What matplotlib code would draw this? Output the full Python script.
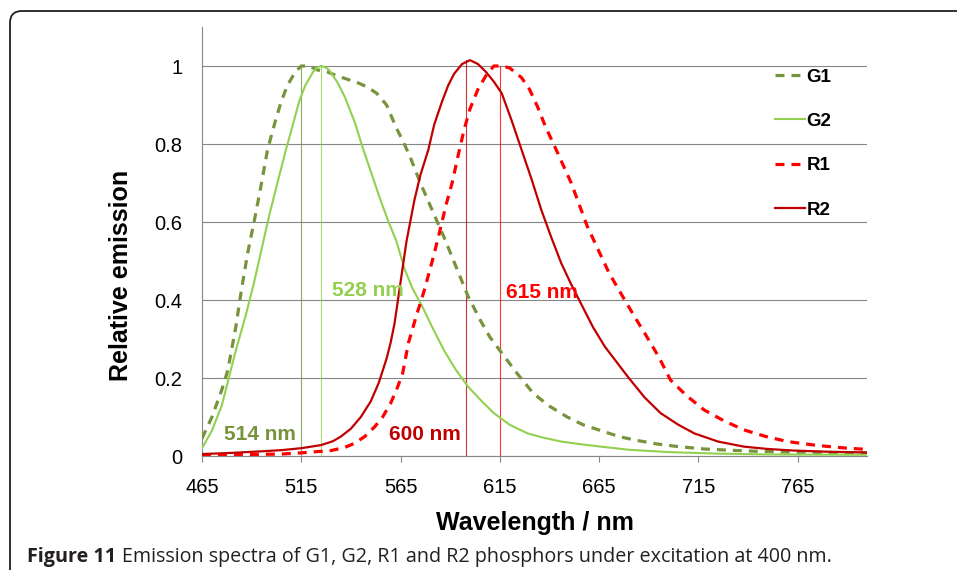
import numpy as np
import matplotlib
matplotlib.use("Agg")
import matplotlib.pyplot as plt
from matplotlib.patches import FancyBboxPatch
from matplotlib.transforms import IdentityTransform

plt.rcParams['font.family'] = ['Liberation Sans', 'DejaVu Sans']

# --- data ---
g1_nm = [465, 470, 475, 478, 482, 485, 488, 492, 495, 498, 502, 505, 508, 512, 515, 519, 523, 528,
         533, 537, 543, 548, 553, 558, 563, 566, 570, 575, 581, 587, 593, 599, 605, 610, 616, 624,
         632, 640, 649, 657, 666, 675, 683, 694, 705, 718, 730, 745, 760, 780, 800]
g1_val = [0.045, 0.10, 0.17, 0.22, 0.33, 0.43, 0.52, 0.62, 0.70, 0.785, 0.86, 0.91, 0.95, 0.985, 1.0,
          1.0, 0.99, 0.985, 0.975, 0.968, 0.958, 0.947, 0.93, 0.90, 0.84, 0.81, 0.765, 0.70, 0.63,
          0.56, 0.485, 0.41, 0.35, 0.305, 0.264, 0.21, 0.16, 0.128, 0.10, 0.08, 0.065, 0.05, 0.041,
          0.031, 0.024, 0.018, 0.015, 0.012, 0.010, 0.009, 0.008]

g2_nm = [465, 470, 475, 478, 482, 487, 491, 495, 499, 503, 507, 510, 514, 517, 521, 523, 525, 527,
         529, 533, 537, 542, 546, 550, 555, 559, 563, 567, 571, 576, 581, 587, 593, 599, 606, 612,
         620, 629, 637, 646, 656, 666, 680, 700, 725, 750, 800]
g2_val = [0.02, 0.065, 0.13, 0.19, 0.27, 0.36, 0.44, 0.53, 0.62, 0.70, 0.78, 0.835, 0.91, 0.95, 0.985,
          0.996, 1.0, 0.997, 0.99, 0.96, 0.92, 0.855, 0.79, 0.73, 0.655, 0.60, 0.55, 0.48, 0.43, 0.383,
          0.33, 0.27, 0.22, 0.178, 0.14, 0.11, 0.08, 0.058, 0.047, 0.037, 0.03, 0.024, 0.016, 0.01,
          0.006, 0.004, 0.003]

r1_nm = [465, 490, 505, 515, 520, 530, 537, 542, 547, 552, 556, 560, 563, 566, 569, 573, 577, 581,
         584, 588, 591, 594, 597, 600, 604, 608, 612, 616, 620, 626, 630, 634, 638, 643, 647, 651,
         655, 659, 664, 670, 676, 682, 688, 695, 701, 709, 718, 728, 738, 749, 760, 775, 790, 800]
r1_val = [0.003, 0.004, 0.005, 0.008, 0.01, 0.014, 0.022, 0.033, 0.05, 0.075, 0.10, 0.135, 0.17, 0.21,
          0.29, 0.36, 0.425, 0.50, 0.56, 0.645, 0.70, 0.77, 0.836, 0.89, 0.94, 0.975, 1.0, 1.0, 0.995,
          0.97, 0.94, 0.896, 0.845, 0.79, 0.745, 0.70, 0.645, 0.59, 0.535, 0.47, 0.417, 0.365, 0.315,
          0.255, 0.195, 0.155, 0.118, 0.09, 0.067, 0.05, 0.037, 0.027, 0.02, 0.017]

r2_nm = [465, 480, 495, 505, 515, 525, 531, 535, 540, 545, 550, 554, 558, 560, 562, 564, 566, 568,
         572, 575, 579, 582, 586, 589, 592, 596, 600, 604, 608, 612, 616, 621, 626, 631, 636, 641,
         646, 651, 656, 662, 668, 674, 680, 688, 696, 705, 713, 725, 738, 750, 763, 780, 800]
r2_val = [0.005, 0.008, 0.012, 0.015, 0.02, 0.028, 0.038, 0.05, 0.07, 0.10, 0.14, 0.187, 0.25, 0.29,
          0.34, 0.41, 0.48, 0.55, 0.656, 0.72, 0.785, 0.85, 0.91, 0.95, 0.98, 1.005, 1.015, 1.005,
          0.985, 0.96, 0.93, 0.86, 0.785, 0.71, 0.63, 0.56, 0.494, 0.44, 0.39, 0.33, 0.28, 0.24, 0.20,
          0.15, 0.11, 0.08, 0.058, 0.037, 0.024, 0.018, 0.014, 0.011, 0.009]

# peak marker lines (position, height) and their labels
peak_nm = [515, 525, 598, 615]
peak_top = [1.0, 1.0, 1.015, 1.0]
peak_text = ['514 nm', '528 nm', '600 nm', '615 nm']
peak_text_x = [476, 530.5, 559, 618]
peak_text_y = [0.056, 0.425, 0.056, 0.42]

c_g1 = '#77933C'
c_g2 = '#92D050'
c_r1 = '#FF0000'
c_r2 = '#C00000'
peak_colors = [c_g1, c_g2, c_r2, c_r1]

fig = plt.figure(figsize=(9.57, 5.70), dpi=100)
ax = fig.add_axes([202/957, 1-456/570, (867-202)/957, (456-27)/570])

dash = (2.8, 2.2)
ax.plot(g1_nm, g1_val, color=c_g1, lw=2.3, dashes=dash, label='G1', zorder=3)
ax.plot(g2_nm, g2_val, color=c_g2, lw=1.5, label='G2', zorder=3)
ax.plot(r1_nm, r1_val, color=c_r1, lw=2.3, dashes=dash, label='R1', zorder=3)
ax.plot(r2_nm, r2_val, color=c_r2, lw=1.6, label='R2', zorder=3)

for x, top, c in zip(peak_nm, peak_top, peak_colors):
    ax.plot([x, x], [0, top], color=c, lw=0.8, alpha=0.8, zorder=2)

for t, x, y, c in zip(peak_text, peak_text_x, peak_text_y, peak_colors):
    ax.text(x, y, t, color=c, fontsize=15, fontweight='bold', va='center', ha='left', zorder=4)

ax.set_xlim(465, 800)
ax.set_ylim(0, 1.1)
ax.set_xticks(np.arange(465, 800, 50))
ax.set_yticks([0, 0.2, 0.4, 0.6, 0.8, 1.0])
ax.set_yticklabels(['0', '0.2', '0.4', '0.6', '0.8', '1'])
ax.tick_params(axis='y', length=0, pad=14, labelsize=14.5)
ax.tick_params(axis='x', length=4, width=0.8, color='#868686', pad=12, labelsize=14.5)
ax.grid(axis='y', color='#868686', lw=0.8)
ax.set_axisbelow(True)
for s in ['top', 'right']:
    ax.spines[s].set_visible(False)
for s in ['left', 'bottom']:
    ax.spines[s].set_color('#868686')
    ax.spines[s].set_linewidth(0.8)

ax.set_xlabel('Wavelength / nm', fontsize=18, fontweight='bold', labelpad=10)
ax.set_ylabel('Relative emission', fontsize=18, fontweight='bold')
ax.yaxis.set_label_coords(-0.104, 0.42)

leg = ax.legend(loc='upper left', bbox_to_anchor=(767/957, 1-61/570), bbox_transform=fig.transFigure,
                frameon=False, prop={'weight': 'bold', 'size': 13.5}, handlelength=1.6,
                handletextpad=0.1, labelspacing=1.45, borderaxespad=0)

# rounded frame round the figure
frame = FancyBboxPatch((10, -40), 1000, 570-11+40, boxstyle='round,pad=0,rounding_size=12',
                       transform=IdentityTransform(), fill=False, edgecolor='#231f20', lw=1.3,
                       clip_on=False)
fig.patches.append(frame)

# caption: bold lead-in, then regular text
cap_y = 1-557/570
t1 = fig.text(27/957, cap_y, 'Figure 11', fontsize=14.2, fontweight='bold', color='#231f20',
              family=['Open Sans', 'DejaVu Sans'], va='center', ha='left')
fig.canvas.draw()
bb = t1.get_window_extent()
fig.text((bb.x1 + 6)/957, cap_y, 'Emission spectra of G1, G2, R1 and R2 phosphors under excitation at 400 nm.',
         fontsize=14.2, color='#231f20', family=['Open Sans', 'DejaVu Sans'], va='center', ha='left')

fig.savefig('out.png', dpi=100)
